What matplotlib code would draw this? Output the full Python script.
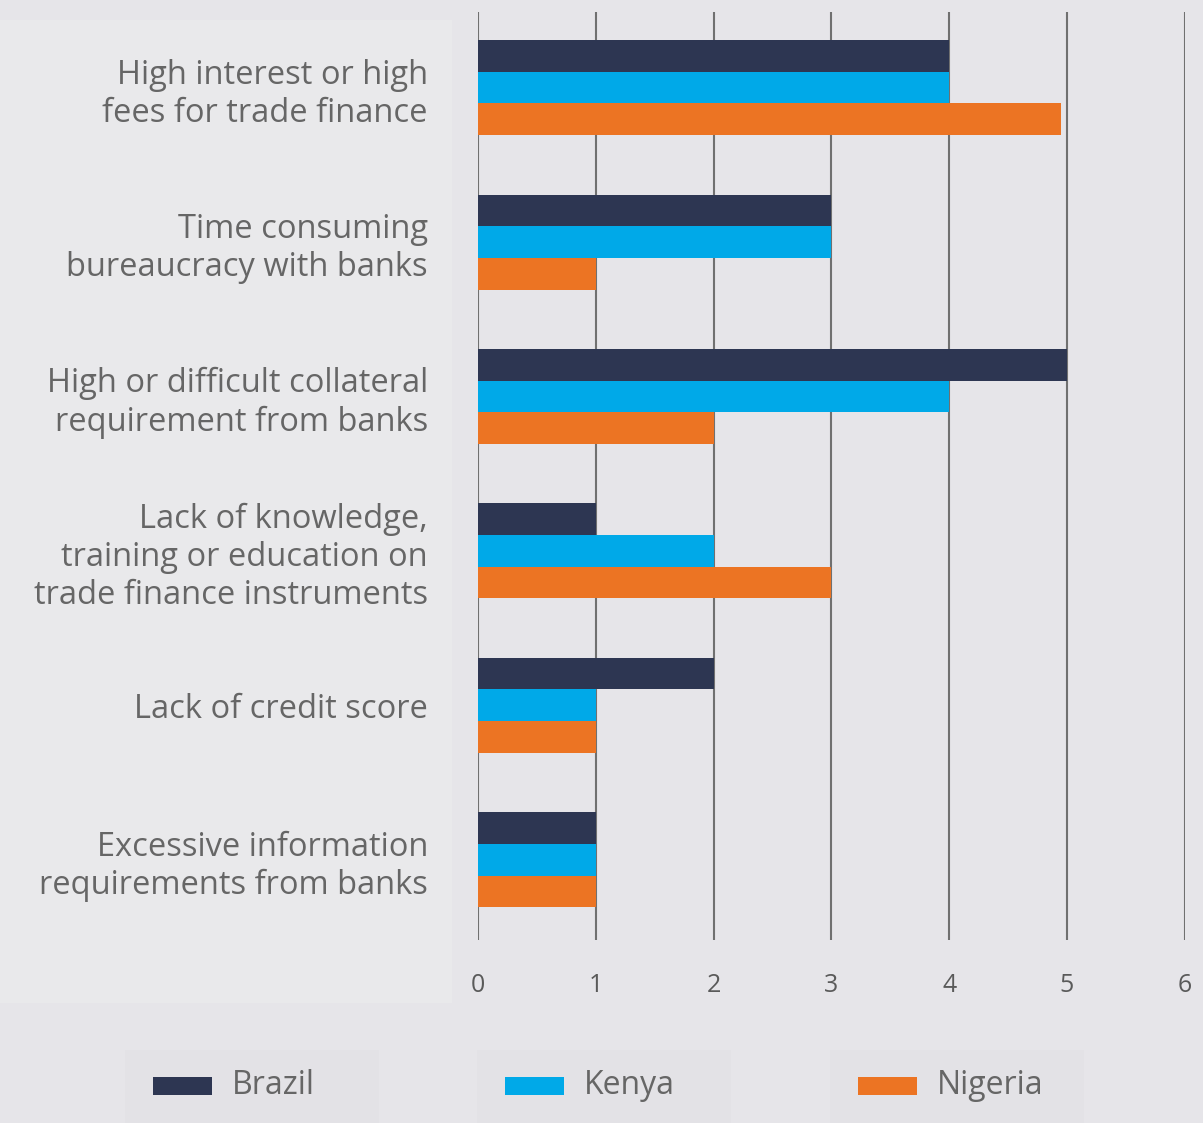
import numpy as np
import matplotlib.pyplot as plt
from matplotlib.patches import Rectangle

# Datos
categorias = [
    "High interest or high\nfees for trade finance",
    "Time consuming\nbureaucracy with banks",
    "High or difficult collateral\nrequirement from banks",
    "Lack of knowledge,\ntraining or education on\ntrade finance instruments",
    "Lack of credit score",
    "Excessive information\nrequirements from banks",
]
paises = ["Brazil", "Kenya", "Nigeria"]
brazil = [4, 3, 5, 1, 2, 1]
kenya = [4, 3, 4, 2, 1, 1]
nigeria = [4.95, 1, 2, 3, 1, 1]
colores = ["#2d3652", "#00a9e8", "#ec7423"]
ticks_x = [0, 1, 2, 3, 4, 5, 6]

fondo = "#e6e5e9"
gris_texto = "#666666"
fuente = "Open Sans"

fig = plt.figure(figsize=(12.03, 11.23), dpi=100)
fig.patch.set_facecolor(fondo)

# Panel de etiquetas un poco mas claro
fig.patches.append(Rectangle((0, 1 - 1003 / 1123), 452 / 1203, (1003 - 20) / 1123,
                             transform=fig.transFigure, facecolor="#e9e9eb",
                             edgecolor="none", zorder=-5))

ax = fig.add_axes([478 / 1203, 1 - 940 / 1123, (1185 - 478) / 1203, (940 - 12) / 1123])
ax.set_facecolor("none")

y = np.arange(len(categorias))
h = 0.205
series = [brazil, kenya, nigeria]
for i, (vals, c) in enumerate(zip(series, colores)):
    ax.barh(y + (i - 1) * h, vals, height=h, color=c, zorder=3, label=paises[i])

ax.set_xlim(-0.003, 6.003)
ax.set_ylim(5.52, -0.49)
ax.set_xticks(ticks_x)
ax.set_xticklabels([str(t) for t in ticks_x], fontsize=18, color="#5a5a5a",
                   family=fuente)
ax.tick_params(axis="x", length=0, pad=24)
ax.set_yticks(y)
ax.set_yticklabels(categorias, fontsize=23.5, color=gris_texto, family=fuente,
                   linespacing=1.2)
ax.tick_params(axis="y", length=0, pad=36)
for t in ax.get_yticklabels():
    t.set_horizontalalignment("right")

ax.grid(axis="x", color="#707070", linewidth=1.5, zorder=1)
ax.grid(axis="y", visible=False)
for s in ax.spines.values():
    s.set_visible(False)

# Leyenda hecha a mano
leg_x = [153, 505, 858]
for px, nombre, c in zip(leg_x, paises, colores):
    fig.patches.append(Rectangle(((px - 28) / 1203, 0), 254 / 1203, 73 / 1123,
                                 transform=fig.transFigure, facecolor="#e3e2e6",
                                 edgecolor="none", zorder=-5))
    fig.patches.append(Rectangle((px / 1203, 1 - 1095 / 1123), 59 / 1203, 18 / 1123,
                                 transform=fig.transFigure, facecolor=c,
                                 edgecolor="none", zorder=2))
    fig.text((px + 79) / 1203, 1 - 1086 / 1123, nombre, fontsize=23,
             color=gris_texto, family=fuente, va="center", ha="left")

fig.savefig("out.png", dpi=100, facecolor=fondo)
